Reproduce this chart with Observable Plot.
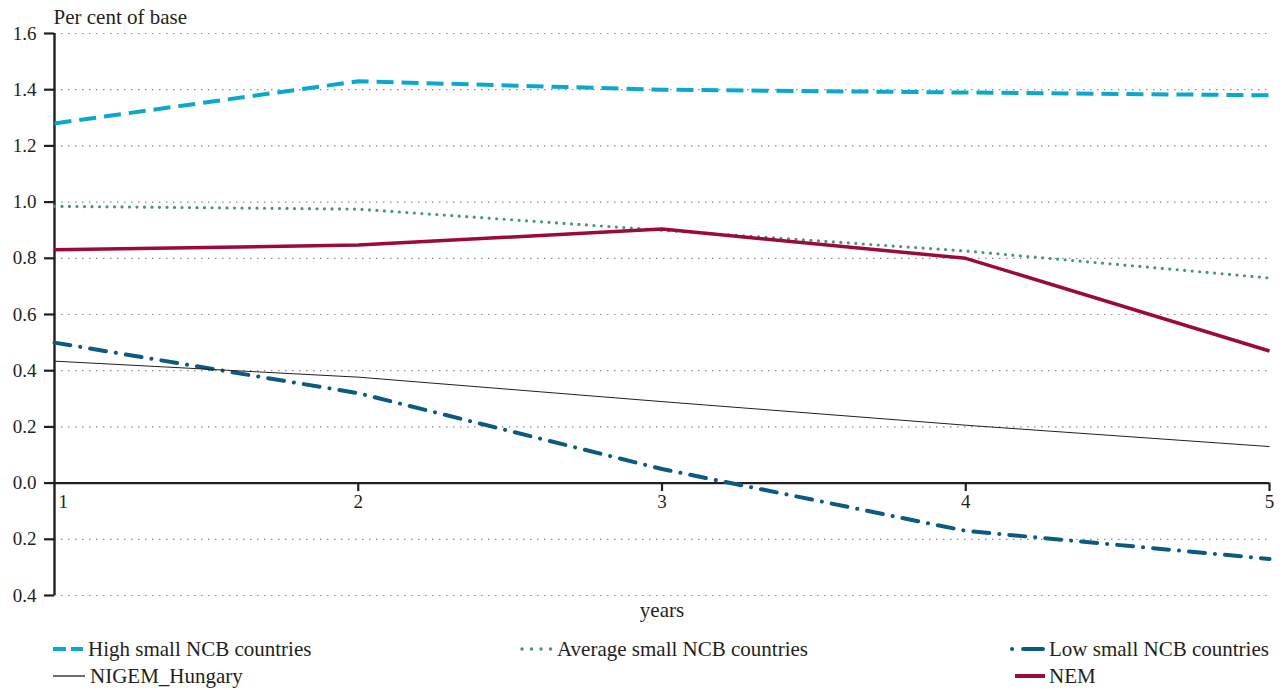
<!DOCTYPE html>
<html>
<head>
<meta charset="utf-8">
<script src="https://cdn.jsdelivr.net/npm/d3@7"></script>
<script src="https://cdn.jsdelivr.net/npm/@observablehq/plot@0.6"></script>
<style>
  body { margin: 0; background: #fff; font-family: "Liberation Serif", "Times New Roman", "DejaVu Serif", serif; }
  #legend { position: relative; height: 62px; font-size: 21px; color: #231f20; }
  .sw { position: absolute; }
  .lab { position: absolute; height: 24px; line-height: 24px; white-space: nowrap; }
  #chart svg text { font-family: "Liberation Serif", "Times New Roman", "DejaVu Serif", serif; }
</style>
</head>
<body>
<div id="chart"></div>
<div id="legend"></div>
<script>
const years = [1, 2, 3, 4, 5];
const high = [1.28, 1.43, 1.40, 1.39, 1.38];
const average = [0.985, 0.975, 0.90, 0.826, 0.73];
const low = [0.50, 0.32, 0.05, -0.17, -0.27];
const nigem = [0.434, 0.377, 0.29, 0.206, 0.13];
const nem = [0.83, 0.847, 0.904, 0.80, 0.47];
const yTicks = [-0.4, -0.2, 0, 0.2, 0.4, 0.6, 0.8, 1.0, 1.2, 1.4, 1.6];
const seriesNames = ["High small NCB countries", "Average small NCB countries", "Low small NCB countries", "NIGEM_Hungary", "NEM"];

const styles = {
  "High small NCB countries": {stroke: "#0aa8cc", strokeWidth: 4, strokeDasharray: "17,8", strokeLinecap: "butt"},
  "Average small NCB countries": {stroke: "#4a9474", strokeWidth: 3.2, strokeDasharray: "0,7.5", strokeLinecap: "round"},
  "Low small NCB countries": {stroke: "#0b5a80", strokeWidth: 4, strokeDasharray: "16,10,0.1,10", strokeLinecap: "round"},
  "NIGEM_Hungary": {stroke: "#231f20", strokeWidth: 1, strokeDasharray: null, strokeLinecap: "butt"},
  "NEM": {stroke: "#9b0a3a", strokeWidth: 3.5, strokeDasharray: null, strokeLinecap: "butt"}
};
const values = [high, average, low, nigem, nem];
const rows = [];
seriesNames.forEach((s, i) => years.forEach((yr, j) => rows.push({series: s, year: yr, value: values[i][j]})));

const fmt = d => Math.abs(d).toFixed(1);
const ink = "#231f20";
const FS = 19;

const lineMarks = seriesNames.map(s => Plot.line(rows.filter(r => r.series === s), {
  x: "year", y: "value", ...Object.fromEntries(Object.entries(styles[s]).filter(([k, v]) => v != null))
}));

const chart = Plot.plot({
  width: 1285,
  height: 628,
  marginLeft: 54,
  marginRight: 16,
  marginTop: 33,
  marginBottom: 33,
  style: {fontFamily: "'Liberation Serif', 'Times New Roman', serif", fontSize: FS + "px", color: ink, background: "#fff"},
  x: {domain: [1, 5], axis: null},
  y: {domain: [-0.4, 1.6], axis: null},
  marks: [
    Plot.gridY(yTicks.filter(d => d !== 0), {stroke: "#8a8a8a", strokeOpacity: 1, strokeDasharray: "1.5,5.5", strokeWidth: 1.2}),
    Plot.axisY(yTicks, {label: null, tickFormat: fmt, tickSize: 10, tickPadding: 8, strokeWidth: 2.2, stroke: ink, fill: ink, fontSize: FS}),
    Plot.ruleX([1], {stroke: ink, strokeWidth: 2.4}),
    Plot.ruleY([0], {stroke: ink, strokeWidth: 2.4}),
    Plot.ruleX(years.slice(1), {x: d => d, y1: 0, y2: -0.03, stroke: ink, strokeWidth: 2.2}),
    Plot.text(years.slice(0, 1), {x: d => d, y: 0, dy: 19, dx: 4, text: d => String(d), textAnchor: "start", fill: ink, fontSize: FS}),
    Plot.text(years.slice(1), {x: d => d, y: 0, dy: 19, text: d => String(d), fill: ink, fontSize: FS}),
    ...lineMarks,
    Plot.text(["Per cent of base"], {frameAnchor: "top-left", lineAnchor: "middle", dy: -16, dx: -1, text: d => d, textAnchor: "start", fill: ink, fontSize: 21}),
    Plot.text(["years"], {frameAnchor: "bottom", lineAnchor: "middle", dy: 15, text: d => d, fill: ink, fontSize: 21})
  ]
});
document.getElementById("chart").appendChild(chart);

// Legend
const legend = document.getElementById("legend");
// [swatch x1, swatch x2, text x, row centre y (relative to legend top)]
const layout = [[53, 83, 88, 21], [522, 551, 557, 21], [1012, 1043, 1049, 21], [53, 85, 90, 48], [1015, 1045, 1049, 48]];
const swatchDash = ["13,5", "0,9.5", "0.1,11,20", null, null];
const ns = "http://www.w3.org/2000/svg";
seriesNames.forEach((s, i) => {
  const st = styles[s];
  const [x1, x2, tx, cy] = layout[i];
  const svg = document.createElementNS(ns, "svg");
  svg.setAttribute("class", "sw");
  svg.setAttribute("width", x2 - x1 + 6);
  svg.setAttribute("height", 10);
  svg.style.left = (x1 - 3) + "px";
  svg.style.top = (cy - 5) + "px";
  const ln = document.createElementNS(ns, "line");
  ln.setAttribute("x1", 3);
  ln.setAttribute("x2", 3 + x2 - x1);
  ln.setAttribute("y1", 5);
  ln.setAttribute("y2", 5);
  ln.setAttribute("stroke", st.stroke);
  ln.setAttribute("stroke-width", i === 3 ? 1.3 : (i === 1 ? 3.5 : 4));
  ln.setAttribute("stroke-linecap", st.strokeLinecap);
  if (swatchDash[i]) ln.setAttribute("stroke-dasharray", swatchDash[i]);
  svg.appendChild(ln);
  legend.appendChild(svg);
  const span = document.createElement("div");
  span.className = "lab";
  span.textContent = s;
  span.style.left = tx + "px";
  span.style.top = (cy - 12) + "px";
  legend.appendChild(span);
});
</script>
</body>
</html>
